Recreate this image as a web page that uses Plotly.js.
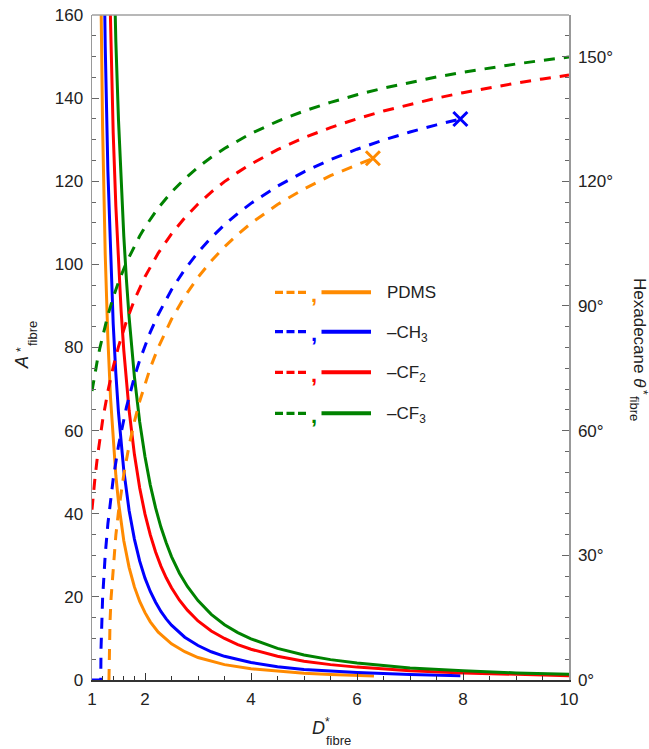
<!DOCTYPE html>
<html>
<head>
<meta charset="utf-8">
<script src="https://cdn.plot.ly/plotly-3.0.1.min.js"></script>
<style>html,body{margin:0;padding:0;background:#fff;}</style>
</head>
<body>
<div id="chart" style="width:649px;height:749px;"></div>
<script>
// Fibre spacing ratio D*fibre, robustness factor A*fibre (solid, left axis)
// and hexadecane apparent contact angle θ*fibre (dashed, right axis, degrees).

const seriesNames = ['PDMS', '–CH<sub>3</sub>', '–CF<sub>2</sub>', '–CF<sub>3</sub>'];
const seriesColors = ['#ff8a00', '#0000ff', '#ff0000', '#008200'];

// --- robustness factor A*fibre ---
const pdmsD_A = [1.15,1.18,1.2,1.25,1.3,1.35,1.4,1.45,1.5,1.6,1.7,1.8,1.9,2.0,2.1,2.25,2.5,2.75,3.0,3.5,4.0,4.5,5.0,5.5,6.0,6.32];
const pdmsA   = [184.4,150.0,132.8,102.2,82.0,67.8,57.2,49.2,42.8,33.5,27.1,22.4,18.9,16.2,14.0,11.5,8.7,6.8,5.4,3.7,2.7,2.1,1.6,1.3,1.1,0.98];

const ch3D_A = [1.2,1.25,1.3,1.35,1.4,1.45,1.5,1.6,1.7,1.8,1.9,2.0,2.1,2.2,2.3,2.4,2.5,2.75,3.0,3.25,3.5,4.0,4.5,5.0,5.5,6.0,7.0,7.95];
const ch3A   = [197.7,152.3,122.4,101.4,85.7,73.7,64.3,50.4,40.8,33.9,28.6,24.5,21.3,18.7,16.5,14.7,13.2,10.3,8.3,6.8,5.7,4.2,3.2,2.5,2.1,1.8,1.3,1.0];

const cf2D_A = [1.3,1.35,1.4,1.45,1.5,1.55,1.6,1.65,1.7,1.8,1.9,2.0,2.1,2.2,2.3,2.4,2.5,2.65,2.8,3.0,3.25,3.5,3.75,4.0,4.5,5.0,5.5,6.0,6.5,7.0,8.0,9.0,10.0];
const cf2A   = [185.3,154.5,131.6,114.0,100.0,88.7,79.3,71.5,64.9,54.3,46.2,39.9,34.9,30.8,27.4,24.6,22.2,19.2,16.8,14.2,11.8,10.0,8.5,7.4,5.7,4.5,3.7,3.1,2.6,2.2,1.7,1.3,1.05];

const cf3D_A = [1.35,1.4,1.45,1.5,1.55,1.6,1.65,1.7,1.8,1.9,2.0,2.1,2.2,2.3,2.4,2.5,2.65,2.8,3.0,3.25,3.5,3.75,4.0,4.5,5.0,5.5,6.0,6.5,7.0,8.0,9.0,10.0];
const cf3A   = [208.4,177.4,153.6,134.7,119.4,106.8,96.2,87.3,73.0,62.1,53.7,46.9,41.4,36.8,33.0,29.7,25.7,22.5,19.1,15.8,13.3,11.4,9.9,7.6,6.0,4.9,4.1,3.45,2.9,2.2,1.7,1.4];

// --- hexadecane apparent contact angle θ*fibre (degrees) ---
const pdmsD_T = [1.32,1.325,1.33,1.34,1.36,1.4,1.45,1.5,1.6,1.7,1.8,1.9,2.0,2.1,2.25,2.5,2.75,3.0,3.25,3.5,3.75,4.0,4.5,5.0,5.5,6.0,6.3];
const pdmsT   = [0,7.02,9.94,14.04,19.76,27.67,34.84,40.54,49.46,56.43,62.18,67.08,71.34,75.10,80.02,86.79,92.29,96.89,100.82,104.22,107.22,109.88,114.41,118.16,121.33,124.06,125.52];

const ch3D_T = [1,1.165,1.17,1.18,1.2,1.25,1.3,1.4,1.5,1.65,1.8,1.9,2.0,2.1,2.25,2.5,2.75,3.0,3.25,3.5,3.75,4.0,4.5,5.0,5.5,6.0,6.5,7.0,7.5,7.95];
const ch3T   = [0,0,7.47,12.94,19.67,30.23,37.61,48.37,56.41,65.66,72.88,76.92,80.50,83.71,87.96,93.90,98.78,102.90,106.44,109.53,112.25,114.68,118.83,122.27,125.20,127.71,129.91,131.84,133.57,134.98];

const cfD_T = [1,1.02,1.05,1.1,1.15,1.2,1.3,1.4,1.5,1.65,1.8,1.9,2.0,2.25,2.5,2.75,3.0,3.25,3.5,3.75,4.0,4.5,5.0,5.5,6.0,6.5,7.0,7.5,8.0,8.5,9.0,9.5,10.0];
const cf2T  = [40.98,43.90,47.82,53.45,58.26,62.45,69.51,75.31,80.21,86.35,91.43,94.38,97.04,102.71,107.34,111.21,114.52,117.39,119.91,122.14,124.14,127.59,130.47,132.91,135.03,136.89,138.53,140.00,141.31,142.52,143.61,144.62,145.54];
const cf3T  = [69.51,71.13,73.40,76.86,79.99,82.82,87.79,92.05,95.74,100.47,104.48,106.83,108.97,113.58,117.39,120.60,123.37,125.78,127.90,129.79,131.49,134.43,136.89,138.98,140.81,142.39,143.81,145.08,146.23,147.27,148.21,149.09,149.89];

// axis ticks
const xTicks = [1, 2, 4, 6, 8, 10];
const xMinor = [1.2,1.4,1.6,1.8,2.5,3,3.5,4.5,5,5.5,6.5,7,7.5,8.5,9,9.5];
const yTicks = [0, 20, 40, 60, 80, 100, 120, 140, 160];
const angleTicks = [0, 30, 60, 90, 120, 150];
const angleLabels = angleTicks.map(v => v + '°');

const thetaSets = [[pdmsD_T, pdmsT], [ch3D_T, ch3T], [cfD_T, cf2T], [cfD_T, cf3T]];
const aSets = [[pdmsD_A, pdmsA], [ch3D_A, ch3A], [cf2D_A, cf2A], [cf3D_A, cf3A]];

const traces = [];
thetaSets.forEach(([xs, ys], i) => {
  traces.push({
    x: xs, y: ys, yaxis: 'y2', type: 'scatter', mode: 'lines',
    line: {color: seriesColors[i], width: 3, dash: '11px,9px'},
    hoverinfo: 'skip', showlegend: false
  });
});
aSets.forEach(([xs, ys], i) => {
  traces.push({
    x: xs, y: ys, type: 'scatter', mode: 'lines',
    line: {color: seriesColors[i], width: 3},
    hoverinfo: 'skip', showlegend: false
  });
});
// end-point crosses on the PDMS and –CH3 angle curves
[0, 1].forEach(i => {
  const [xs, ys] = thetaSets[i];
  traces.push({
    x: [xs[xs.length - 1]], y: [ys[ys.length - 1]], yaxis: 'y2',
    type: 'scatter', mode: 'markers',
    marker: {symbol: 'x-thin-open', size: 14, color: seriesColors[i],
             line: {color: seriesColors[i], width: 3}},
    hoverinfo: 'skip', showlegend: false
  });
});

// plot-area geometry in pixels, used to place the hand-drawn key and titles
const L = 92, T = 15, W = 477, H = 665;
const px = v => (v - L) / W;
const py = v => (T + H - v) / H;

const txt = '#222';
const font = 'Liberation Sans, Arial, Helvetica, sans-serif';

const shapes = [
  {type: 'line', xref: 'paper', yref: 'paper', x0: 0, x1: 1, y0: 1, y1: 1,
   line: {color: '#a0a0a0', width: 1.5}}
];
const annotations = [];

// key: dashed sample, comma, solid sample, label
const rowY = [292.3, 331.7, 372.3, 413.3];
rowY.forEach((ry, i) => {
  shapes.push({type: 'line', xref: 'paper', yref: 'paper',
    x0: px(275), x1: px(307), y0: py(ry), y1: py(ry),
    line: {color: seriesColors[i], width: 3.3, dash: '8px,3.5px'}});
  shapes.push({type: 'line', xref: 'paper', yref: 'paper',
    x0: px(321.5), x1: px(371), y0: py(ry), y1: py(ry),
    line: {color: seriesColors[i], width: 4}});
  annotations.push({xref: 'paper', yref: 'paper', x: px(313.5), y: py(ry + 2),
    text: '<b>,</b>', showarrow: false, xanchor: 'center', yanchor: 'middle',
    font: {family: font, size: 22, color: seriesColors[i]}});
  annotations.push({xref: 'paper', yref: 'paper', x: px(384.5), y: py(i === 0 ? ry : ry + 2),
    text: seriesNames[i], showarrow: false, xanchor: 'left', yanchor: 'middle',
    font: {family: font, size: 17, color: txt}});
});

// axis titles with stacked super/subscripts
function note(x, y, text, size, angle) {
  annotations.push({xref: 'paper', yref: 'paper', x: px(x), y: py(y), text: text,
    showarrow: false, xanchor: 'center', yanchor: 'middle', textangle: angle || 0,
    font: {family: font, size: size, color: txt}});
}
// bottom: D*fibre
note(318.5, 727.5, '<i>D</i>', 18);
note(327, 722.5, '*', 12);
note(338.5, 740.5, 'fibre', 13);
// left: A*fibre
note(22.5, 362.5, '<i>A</i>', 18, -90);
note(21, 350, '*', 12, -90);
note(32, 334, 'fibre', 13, -90);
// right: Hexadecane θ*fibre
note(639.5, 332.5, 'Hexadecane <i>θ</i>', 17, 90);
note(643, 392, '*', 12, 90);
note(634.5, 408.5, 'fibre', 13, 90);

const layout = {
  width: 649, height: 749,
  margin: {l: L, r: 649 - L - W, t: T, b: 749 - T - H, pad: 0},
  paper_bgcolor: '#fff', plot_bgcolor: '#fff',
  font: {family: font, size: 17, color: txt},
  showlegend: false,
  xaxis: {
    range: [1, 10], tickmode: 'array', tickvals: xTicks,
    ticks: 'inside', ticklen: 7, tickwidth: 1, tickcolor: '#333',
    minor: {tickmode: 'array', tickvals: xMinor, ticks: 'inside', ticklen: 4.5, tickwidth: 1, tickcolor: '#333'},
    showline: true, linecolor: '#333', linewidth: 1.5,
    showgrid: false, zeroline: false, ticklabelstandoff: 3,
    tickfont: {family: font, size: 17, color: txt}
  },
  yaxis: {
    range: [0, 160], tickmode: 'array', tickvals: yTicks,
    ticks: 'inside', ticklen: 7, tickwidth: 1, tickcolor: '#666',
    minor: {dtick: 5, tick0: 0, ticks: 'inside', ticklen: 4, tickwidth: 1, tickcolor: '#666'},
    showline: true, linecolor: '#999', linewidth: 1.5,
    showgrid: false, zeroline: false, ticklabelstandoff: 4,
    tickfont: {family: font, size: 17, color: txt}
  },
  yaxis2: {
    overlaying: 'y', side: 'right', anchor: 'x',
    range: [0, 160], tickmode: 'array', tickvals: angleTicks, ticktext: angleLabels,
    ticks: 'inside', ticklen: 7, tickwidth: 1, tickcolor: '#666',
    minor: {dtick: 5, tick0: 0, ticks: 'inside', ticklen: 4, tickwidth: 1, tickcolor: '#666'},
    showline: true, linecolor: '#999', linewidth: 1.5,
    showgrid: false, zeroline: false, ticklabelstandoff: 4,
    tickfont: {family: font, size: 17, color: txt}
  },
  shapes: shapes,
  annotations: annotations
};

Plotly.newPlot('chart', traces, layout, {staticPlot: true, displayModeBar: false});
</script>
</body>
</html>
